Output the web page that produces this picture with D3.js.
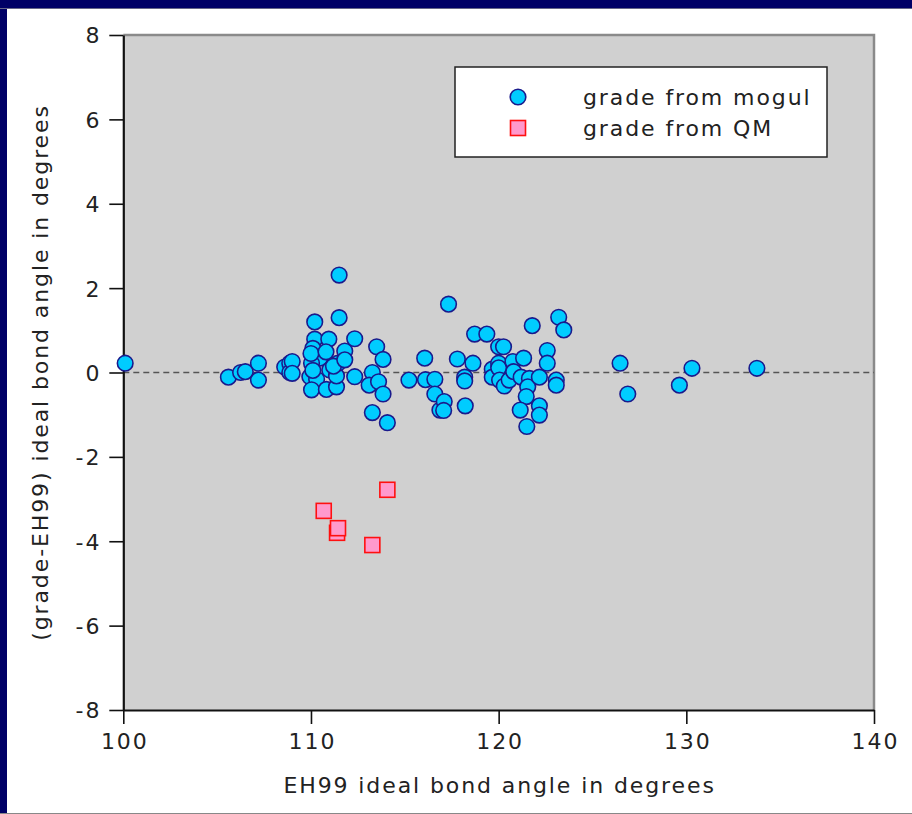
<!DOCTYPE html>
<html>
<head>
<meta charset="utf-8">
<script src="https://cdn.jsdelivr.net/npm/d3@7"></script>
<style>
  html, body { margin: 0; padding: 0; background: #ffffff; }
  svg { display: block; }
  text { font-family: "DejaVu Sans", sans-serif; fill: #222; }
</style>
</head>
<body>
<svg id="chart" width="912" height="814"></svg>
<script>
// ---- data ----
const xTicks = [100, 110, 120, 130, 140];
const yTicks = [-8, -6, -4, -2, 0, 2, 4, 6, 8];
const seriesNames = ["grade from mogul", "grade from QM"];

// grade from mogul: EH99 ideal angle (x) and grade - EH99 (y)
const mogulX = [
  100.1, 105.6, 106.25, 106.5, 107.2, 107.2, 108.6, 108.87, 108.87,
  109.0, 109.0,
  110.2, 110.2, 110.1, 110.47, 110.03, 109.94, 110.3, 110.03, 110.0, 110.1,
  110.95, 110.8, 111.0, 110.82, 111.36, 111.36, 111.44, 111.5, 111.5, 111.2,
  111.8, 111.8, 112.33, 112.33,
  113.5, 113.84, 113.27, 113.1, 113.6, 113.84, 113.27, 114.07,
  115.22, 116.06, 116.1, 116.6, 116.6, 116.87, 117.1, 117.07, 117.33, 117.8,
  118.19, 118.19, 118.22, 118.63, 118.72, 119.37, 119.66, 119.66,
  120.0, 120.26, 120.0, 120.0, 120.05, 120.3, 120.56, 120.76, 120.8,
  121.2, 121.33, 121.64, 121.55, 121.47, 121.15, 121.5, 121.79,
  122.17, 122.17, 122.17, 122.59, 122.59, 123.07, 123.07, 123.2, 123.47,
  126.47, 126.88, 129.63, 130.3, 133.76
];
const mogulY = [
  0.22, -0.11, 0.0, 0.02, 0.22, -0.18, 0.13, 0.22, 0.0,
  0.26, -0.02,
  1.20, 0.79, 0.57, 0.34, 0.22, -0.10, -0.16, -0.41, 0.45, 0.05,
  0.79, 0.49, 0.06, -0.40, -0.34, -0.08, 0.22, 2.31, 1.30, 0.15,
  0.51, 0.30, 0.80, -0.10,
  0.61, 0.31, 0.0, -0.30, -0.22, -0.51, -0.95, -1.19,
  -0.18, 0.34, -0.17, -0.16, -0.51, -0.89, -0.69, -0.90, 1.62, 0.32,
  -0.11, -0.20, -0.79, 0.22, 0.91, 0.91, 0.08, -0.11,
  0.61, 0.61, 0.22, 0.11, -0.18, -0.32, -0.18, 0.26, 0.02,
  -0.11, 0.34, -0.14, -0.34, -0.57, -0.89, -1.28, 1.11,
  -0.11, -0.79, -1.01, 0.52, 0.22, -0.18, -0.30, 1.31, 1.01,
  0.22, -0.51, -0.30, 0.10, 0.10
];

// grade from QM
const qmX = [110.68, 111.39, 111.44, 114.07, 113.27];
const qmY = [-3.28, -3.80, -3.69, -2.78, -4.09];

// ---- drawing ----
const svg = d3.select("#chart");
const W = 912, H = 814;
const plot = { left: 123.3, right: 874, top: 35, bottom: 710 };

const x = d3.scaleLinear().domain([100, 140]).range([plot.left, plot.right]);
const y = d3.scaleLinear().domain([-8, 8]).range([plot.bottom, plot.top]);
const fmt = d => String(d); // plain hyphen-minus like the reference

// page frame
svg.append("rect").attr("x", 0).attr("y", 0).attr("width", W).attr("height", H).attr("fill", "#ffffff");
svg.append("rect").attr("x", 0).attr("y", 0).attr("width", W).attr("height", 8).attr("fill", "#000066");
svg.append("rect").attr("x", 0).attr("y", 0).attr("width", 7).attr("height", H).attr("fill", "#000066");
svg.append("line").attr("x1", 0).attr("x2", W).attr("y1", 8.5).attr("y2", 8.5).attr("stroke", "#666688").attr("stroke-width", 1);
svg.append("line").attr("x1", 0).attr("x2", W).attr("y1", 813.5).attr("y2", 813.5).attr("stroke", "#888").attr("stroke-width", 1);

// plot background
svg.append("rect")
  .attr("x", plot.left).attr("y", plot.top)
  .attr("width", plot.right - plot.left).attr("height", plot.bottom - plot.top)
  .attr("fill", "#d0d0d0");
// top/right border
svg.append("path")
  .attr("d", `M${plot.left},${plot.top}H${plot.right}V${plot.bottom}`)
  .attr("fill", "none").attr("stroke", "#8a8a8a").attr("stroke-width", 2.5);

// zero dashed line
svg.append("line")
  .attr("x1", x(100)).attr("x2", x(140))
  .attr("y1", y(0)).attr("y2", y(0))
  .attr("stroke", "#555").attr("stroke-width", 1.6).attr("stroke-dasharray", "6,4");

// axes
const fontSize = 22, ls = 1.9;
const gx = svg.append("g").attr("transform", `translate(0,${plot.bottom})`)
  .call(d3.axisBottom(x).tickValues(xTicks).tickSize(14).tickSizeOuter(0).tickFormat(fmt));
gx.selectAll("text").attr("y", 39).attr("dy", null).attr("dx", ls / 2)
  .style("font-size", fontSize + "px").style("letter-spacing", ls + "px")
  .style("font-family", "DejaVu Sans, sans-serif").attr("fill", "#222");

const gy = svg.append("g").attr("transform", `translate(${plot.left},0)`)
  .call(d3.axisLeft(y).tickValues(yTicks).tickSize(14).tickSizeOuter(0).tickFormat(fmt));
gy.selectAll("text").attr("x", -22).attr("dy", "0.36em")
  .style("font-size", fontSize + "px").style("letter-spacing", ls + "px")
  .style("font-family", "DejaVu Sans, sans-serif").attr("fill", "#222");

[gx, gy].forEach(g => {
  g.select(".domain").attr("stroke", "#111").attr("stroke-width", 2.2);
  g.selectAll(".tick line").attr("stroke", "#111").attr("stroke-width", 1.6);
});

// axis titles
svg.append("text")
  .attr("x", (plot.left + plot.right) / 2 + ls / 2).attr("y", 793)
  .attr("text-anchor", "middle")
  .style("font-size", fontSize + "px").style("letter-spacing", ls + "px")
  .text("EH99 ideal bond angle in degrees");
svg.append("text")
  .attr("transform", `translate(48,${(plot.top + plot.bottom) / 2}) rotate(-90)`)
  .attr("text-anchor", "middle")
  .style("font-size", fontSize + "px").style("letter-spacing", ls + "px")
  .text("(grade-EH99) ideal bond angle in degrees");

// marks
const mogul = mogulX.map((v, i) => ({ x: v, y: mogulY[i] }));
const qm = qmX.map((v, i) => ({ x: v, y: qmY[i] }));

const circleStyle = { fill: "#00ccff", stroke: "#1a1a8c", r: 7.8, sw: 1.6 };
const squareStyle = { fill: "#ff99cc", stroke: "#ff1010", s: 15, sw: 1.6 };

svg.append("g").selectAll("circle").data(mogul).join("circle")
  .attr("cx", d => x(d.x)).attr("cy", d => y(d.y)).attr("r", circleStyle.r)
  .attr("fill", circleStyle.fill).attr("stroke", circleStyle.stroke).attr("stroke-width", circleStyle.sw);

svg.append("g").selectAll("rect").data(qm).join("rect")
  .attr("x", d => x(d.x) - squareStyle.s / 2).attr("y", d => y(d.y) - squareStyle.s / 2)
  .attr("width", squareStyle.s).attr("height", squareStyle.s)
  .attr("fill", squareStyle.fill).attr("stroke", squareStyle.stroke).attr("stroke-width", squareStyle.sw);

// legend
const lg = svg.append("g");
lg.append("rect").attr("x", 455).attr("y", 67).attr("width", 372).attr("height", 90)
  .attr("fill", "#ffffff").attr("stroke", "#222").attr("stroke-width", 1.5);
lg.append("circle").attr("cx", 518).attr("cy", 97).attr("r", circleStyle.r)
  .attr("fill", circleStyle.fill).attr("stroke", circleStyle.stroke).attr("stroke-width", circleStyle.sw);
lg.append("rect").attr("x", 518 - squareStyle.s / 2).attr("y", 128 - squareStyle.s / 2)
  .attr("width", squareStyle.s).attr("height", squareStyle.s)
  .attr("fill", squareStyle.fill).attr("stroke", squareStyle.stroke).attr("stroke-width", squareStyle.sw);
seriesNames.forEach((name, i) => {
  lg.append("text").attr("x", 583).attr("y", [97, 128][i]).attr("dy", "0.36em")
    .style("font-size", fontSize + "px").style("letter-spacing", ls + "px")
    .text(name);
});
</script>
</body>
</html>
